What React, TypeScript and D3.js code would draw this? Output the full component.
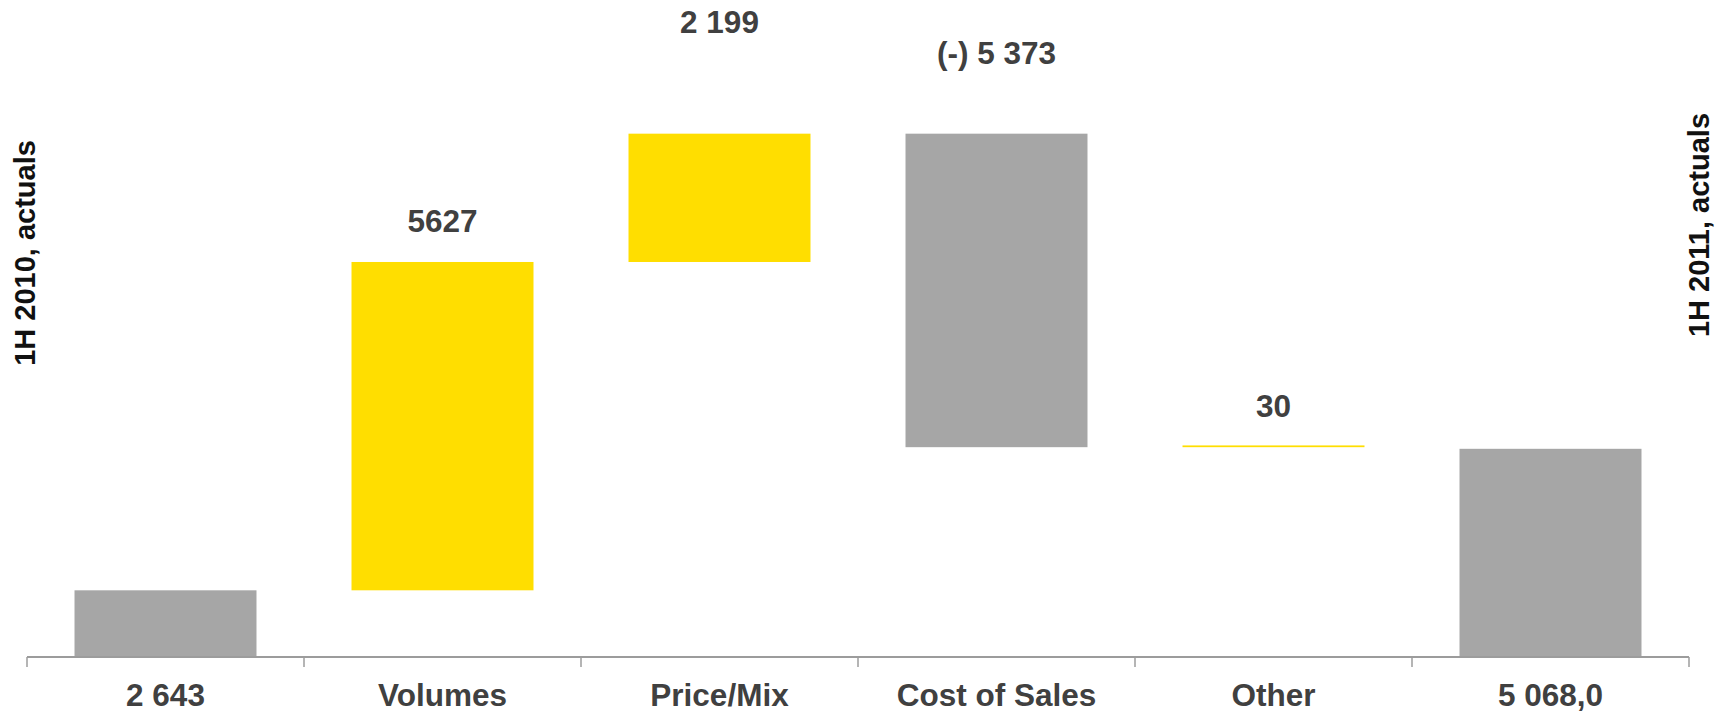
import React from "react";
import * as d3 from "d3";

// Waterfall: opening total, four drivers, closing total
const categories = ["2 643", "Volumes", "Price/Mix", "Cost of Sales", "Other", "5 068,0"];
const kinds = ["total", "delta", "delta", "delta", "delta", "total"];
const values = [2643, 5627, 2199, -5373, 30, 5068];
const valueLabels = ["", "5627", "2 199", "(-) 5 373", "30", ""];
const leftTitle = "1H 2010, actuals";
const rightTitle = "1H 2011, actuals";

// Distance (px) between the top of a bar and the baseline of its value label
const labelLift = [0, 30, 101, 70, 28, 0];

const W = 1733;
const H = 715;
const axisY = 657;
const axisLeft = 27;
const axisRight = 1689;

const YELLOW = "#FFDE00";
const GREY = "#A6A6A6";
const TEXT = "#404040";
const FONT = "'Liberation Sans', Arial, Helvetica, sans-serif";

type Step = { name: string; kind: string; y0: number; y1: number; value: number; label: string; lift: number };

function buildSteps(): Step[] {
  let running = 0;
  return categories.map((name, i) => {
    const v = values[i];
    let y0: number;
    let y1: number;
    if (kinds[i] === "total") {
      y0 = 0;
      y1 = v;
      running = v;
    } else {
      y0 = running;
      y1 = running + v;
      running = y1;
    }
    return { name, kind: kinds[i], y0, y1, value: v, label: valueLabels[i], lift: labelLift[i] };
  });
}

export default function App() {
  const steps = buildSteps();

  const x = d3.scaleBand<string>().domain(categories).range([axisLeft, axisRight]).padding(0);
  const barW = x.bandwidth() * 0.657;

  // value axis is not zero-based: the baseline sits at 1 500
  const y = d3.scaleLinear().domain([1500, 12760]).range([axisY, 0]);

  const boundaries = categories.map((c) => x(c) as number).concat([axisRight]);

  return (
    <svg
      width={W}
      height={H}
      viewBox={`0 0 ${W} ${H}`}
      style={{ position: "absolute", left: 0, top: 0, display: "block", background: "#fff" }}
      fontFamily={FONT}
    >
      {steps.map((s) => {
        const cx = (x(s.name) as number) + x.bandwidth() / 2;
        const lo = Math.min(s.y0, s.y1);
        const hi = Math.max(s.y0, s.y1);
        const yTop = y(hi);
        const yBot = s.kind === "total" ? axisY : y(lo);
        const fill = s.kind === "total" || s.value < 0 ? GREY : YELLOW;
        return (
          <g key={s.name}>
            <rect x={cx - barW / 2} y={yTop} width={barW} height={Math.max(yBot - yTop, 0)} fill={fill} />
            {s.label && (
              <text
                x={cx}
                y={yTop - s.lift}
                textAnchor="middle"
                fontSize={31.5}
                fontWeight="bold"
                fill={TEXT}
              >
                {s.label}
              </text>
            )}
            <text x={cx} y={706} textAnchor="middle" fontSize={31.5} fontWeight="bold" fill={TEXT}>
              {s.name}
            </text>
          </g>
        );
      })}

      {/* category axis */}
      <line x1={axisLeft} x2={axisRight} y1={axisY} y2={axisY} stroke="#9c9c9c" strokeWidth={2} />
      {boundaries.map((bx, i) => (
        <line key={i} x1={bx} x2={bx} y1={axisY} y2={axisY + 10} stroke="#9c9c9c" strokeWidth={1.5} />
      ))}

      {/* period titles */}
      <text
        transform={`translate(35,253) rotate(-90)`}
        textAnchor="middle"
        fontSize={29}
        fontWeight="bold"
        fill="#111"
      >
        {leftTitle}
      </text>
      <text
        transform={`translate(1709,225) rotate(-90)`}
        textAnchor="middle"
        fontSize={29}
        fontWeight="bold"
        fill="#111"
      >
        {rightTitle}
      </text>
    </svg>
  );
}
